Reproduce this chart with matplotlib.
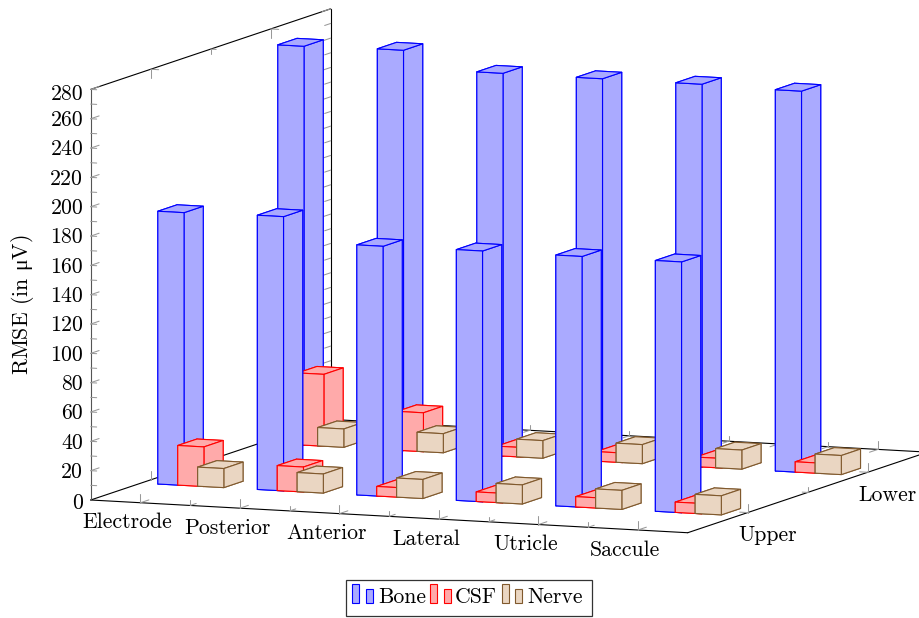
import numpy as np
import matplotlib
matplotlib.use('Agg')
import matplotlib.pyplot as plt
from matplotlib.patches import Rectangle
from mpl_toolkits.mplot3d import proj3d

plt.rcParams['font.family'] = ['cmr10', 'DejaVu Serif']
plt.rcParams['font.size'] = 15.7
plt.rcParams['mathtext.fontset'] = 'custom'
plt.rcParams['mathtext.rm'] = 'Liberation Serif'

# --- DATA ---
categories = ['Electrode', 'Posterior', 'Anterior', 'Lateral', 'Utricle', 'Saccule']
rows = ['Upper', 'Lower']
bone_upper = [186, 187, 170.5, 171, 171, 171]
bone_lower = [272, 273, 261, 261, 261, 260]
csf_upper = [27, 17, 6.5, 6.5, 7, 7]
csf_lower = [49, 26.5, 6.5, 6.5, 6.5, 7]
nerve_upper = [13, 13, 13, 13, 13, 13]
nerve_lower = [12.5, 13, 12, 13, 13, 13]
z_ticks = list(range(0, 281, 20))

series = [
    ('Bone', bone_upper, bone_lower, '#AAAAFF', '#0000FF', -0.2),
    ('CSF', csf_upper, csf_lower, '#FFAAAA', '#FF0000', 0.0),
    ('Nerve', nerve_upper, nerve_lower, '#EAD6C2', '#80592D', 0.2),
]

BAR_W = 0.263
BAR_D = 0.16
TICK = '#999999'

# --- 3D AXES ---
fig = plt.figure(figsize=(9.2, 6.18), dpi=100)
side = 1400
ax = fig.add_axes([0, 0, side / 920, side / 618], projection='3d', proj_type='ortho',
                  elev=7.8, azim=-68, computed_zorder=False)
ax.set_xlim(0.5, 6.5)
ax.set_ylim(0.5, 2.5)
ax.set_zlim(0, 280)
ax.set_axis_off()
ax.patch.set_alpha(0)
aspect = (644, 640.7, 414.5)
ax.set_box_aspect(aspect)


def to_px(x, y, z):
    X, Y, _ = proj3d.proj_transform(x, y, z, ax.get_proj())
    return ax.transData.transform((X, Y))


# fit the projection on the picture: x axis 597 px long, origin at (90.7, 500)
ax.apply_aspect()
span = to_px(6.5, 0.5, 0) - to_px(0.5, 0.5, 0)
ax.set_box_aspect(aspect, zoom=597.9 / np.hypot(*span))
shift = np.array([90.7, 618 - 500]) - to_px(0.5, 0.5, 0)
ax.set_position([shift[0] / 920, shift[1] / 618, side / 920, side / 618])
ax.apply_aspect()


def line(xs, ys, zs, color='black', lw=0.8):
    ax.plot(xs, ys, zs, color=color, lw=lw, zorder=1, solid_capstyle='round')


def tick(xs, ys, zs):
    line(xs, ys, zs, TICK, 0.75)


# box outline
line([0.5, 6.5], [0.5, 0.5], [0, 0])
line([6.5, 6.5], [0.5, 2.5], [0, 0])
line([0.5, 6.5], [2.5, 2.5], [0, 0])
line([0.5, 0.5], [0.5, 2.5], [0, 0])
line([0.5, 0.5], [0.5, 0.5], [0, 280], color='#555555')
line([0.5, 0.5], [2.5, 2.5], [0, 280])
line([0.5, 0.5], [0.5, 2.5], [280, 280])

# ticks, sizes in data units of each axis
for i in np.arange(1, 6.01, 0.5):
    major = i == int(i)
    zl, yl = (6, 0.07) if major else (3.5, 0.05)
    tick([i, i], [0.5, 0.5], [0, zl])
    tick([i, i], [0.5, 0.5 + yl], [0, 0])
    tick([i, i], [2.5, 2.5], [0, zl])
    tick([i, i], [2.5, 2.5 - yl], [0, 0])
for j in [1, 1.5, 2]:
    major = j == int(j)
    zl, xl = (6, 0.08) if major else (3.5, 0.055)
    tick([6.5, 6.5], [j, j], [0, zl])
    tick([6.5, 6.5 - xl], [j, j], [0, 0])
    tick([0.5, 0.5], [j, j], [0, zl])
    tick([0.5, 0.5], [j, j], [280, 280 - zl])
    tick([0.5, 0.5 + xl], [j, j], [280, 280])
for z in range(10, 281, 10):
    major = z % 20 == 0
    tick([0.5, 0.56], [0.5, 0.5], [z, z])
    if major:
        tick([0.5, 0.5], [0.5, 0.57], [z, z])
    tick([0.5, 0.5], [2.5, 2.5 - (0.07 if major else 0.05)], [z, z])

# --- BARS, back row first, then left to right ---
order = 10
for row in [2, 1]:
    for c in range(len(categories)):
        for name, upper, lower, fill, edge, off in series:
            h = lower[c] if row == 2 else upper[c]
            ax.bar3d(c + 1 + off - BAR_W / 2, row - BAR_D / 2, 0, BAR_W, BAR_D, h,
                     color=fill, edgecolor=edge, linewidth=0.8, shade=False, zorder=order)
            order += 1

# --- OVERLAY for texts and legend, in picture pixels ---
over = fig.add_axes([0, 0, 1, 1])
over.set_xlim(0, 920)
over.set_ylim(618, 0)
over.axis('off')
over.patch.set_alpha(0)


def label(x, y, z, dx, dy, s, ha='center'):
    px, py = to_px(x, y, z)
    over.text(px + dx, 618 - py + dy, s, ha=ha, va='center')


for i, name in enumerate(categories):
    label(i + 1, 0.5, 0, -13, 19.8, name)
for j, name in zip([1, 2], rows):
    label(6.5, j, 0, 20, 22.7, name)
for z in z_ticks:
    dy = 4.5 if z == 280 else (3 if z == 0 else 1.5)
    label(0.5, 0.5, z, -7.5, dy, str(z), ha='right')
over.text(23, 305, r'RMSE (in $\mathrm{\mu}$V)', rotation=90, ha='center', va='center')

over.add_patch(Rectangle((346, 580), 245.7, 35.7, fc='white', ec='#333333', lw=0.9))
for (name, upper, lower, fill, edge, off), bx, tx in zip(series, [352.3, 430.3, 501.7], [378, 455, 527]):
    over.add_patch(Rectangle((bx, 584.3), 7, 19, fc=fill, ec=edge, lw=0.8))
    over.add_patch(Rectangle((bx + 13.5, 589), 7, 14.3, fc=fill, ec=edge, lw=0.8))
    over.text(tx, 597.5, name, ha='left', va='center')

fig.savefig('out.png', dpi=100)
